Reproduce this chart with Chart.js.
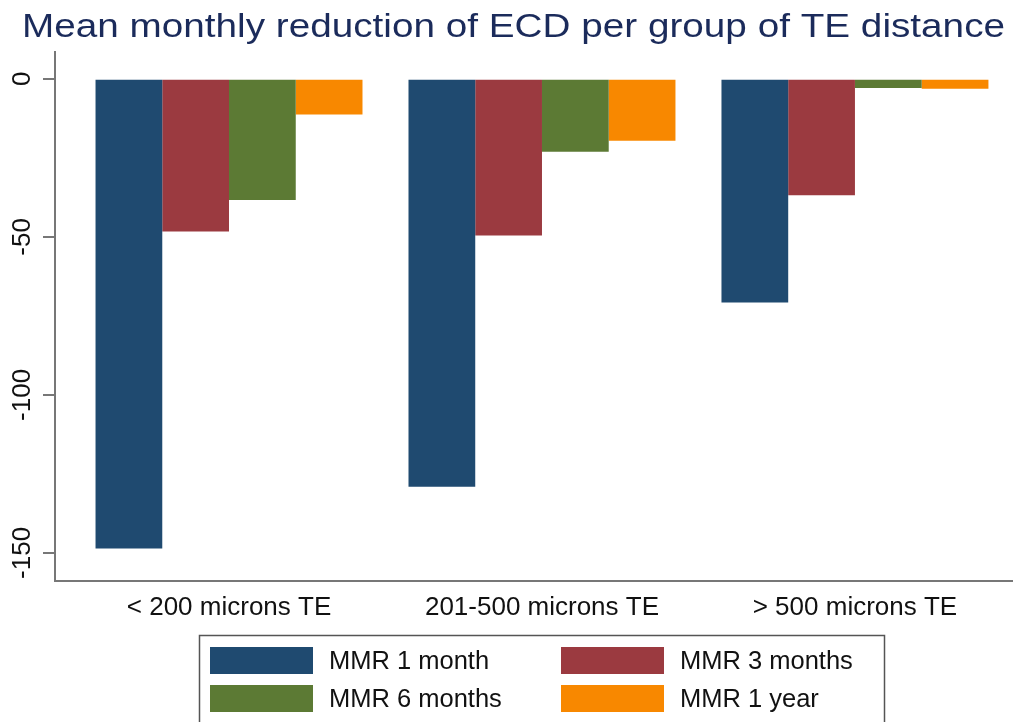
<!DOCTYPE html>
<html>
<head>
<meta charset="utf-8">
<script src="https://cdn.jsdelivr.net/npm/chart.js@4/dist/chart.umd.min.js"></script>
<style>
  html, body { margin: 0; padding: 0; background: #fff; overflow: hidden; }
  #wrap { width: 1013px; height: 722px; position: relative; }
</style>
</head>
<body>
<div id="wrap"><canvas id="chart"></canvas></div>
<script>
// data
const categories = ['< 200 microns TE', '201-500 microns TE', '> 500 microns TE']
const mmr1Month = [-148.6, -129.1, -70.8]
const mmr3Months = [-48.3, -49.6, -36.8]
const mmr6Months = [-38.3, -23.1, -2.9]
const mmr1Year = [-11.3, -19.6, -3.1]
const yTicks = [0, -50, -100, -150]
const seriesNames = ['MMR 1 month', 'MMR 3 months', 'MMR 6 months', 'MMR 1 year']
const colors = ['#1f4a70', '#9b3a40', '#5c7a34', '#f88800']

const FONT = '"Liberation Sans", Arial, sans-serif'

function toPoints(vals) {
  return vals.map((v, i) => ({ x: i, y: v }))
}

// title, y tick labels and boxed legend drawn on the canvas
const extras = {
  id: 'extras',
  afterDraw(chart) {
    const ctx = chart.ctx
    ctx.save()

    // title, stretched to the width of the original
    ctx.font = '34px ' + FONT
    ctx.fillStyle = '#1b2b5b'
    ctx.textBaseline = 'alphabetic'
    ctx.textAlign = 'left'
    const title = 'Mean monthly reduction of ECD per group of TE distance'
    const w = ctx.measureText(title).width
    const target = 983
    ctx.save()
    ctx.translate(22, 37)
    ctx.scale(target / w, 1)
    ctx.fillText(title, 0, 0)
    ctx.restore()

    // y tick labels, rotated
    const ys = chart.scales.y
    ctx.font = '26px ' + FONT
    ctx.fillStyle = '#111'
    ctx.textAlign = 'center'
    ctx.textBaseline = 'middle'
    yTicks.forEach(t => {
      const py = ys.getPixelForValue(t)
      ctx.save()
      ctx.translate(23, py)
      ctx.rotate(-Math.PI / 2)
      ctx.fillText(String(t), 0, 0)
      ctx.restore()
    })

    // legend
    ctx.strokeStyle = '#555'
    ctx.lineWidth = 1.5
    ctx.strokeRect(199.5, 635.5, 685, 100)
    const cols = [210, 561]
    const rows = [647, 685]
    ctx.font = '25.5px ' + FONT
    ctx.textAlign = 'left'
    ctx.textBaseline = 'middle'
    chart.data.datasets.forEach((ds, i) => {
      const cx = cols[i % 2]
      const cy = rows[Math.floor(i / 2)]
      ctx.fillStyle = ds.backgroundColor
      ctx.fillRect(cx, cy, 103, 27)
      ctx.fillStyle = '#111'
      ctx.fillText(ds.label, cx + 119, cy + 15)
    })
    ctx.restore()
  }
}

const seriesData = [mmr1Month, mmr3Months, mmr6Months, mmr1Year]

new Chart(document.getElementById('chart'), {
  type: 'bar',
  data: {
    datasets: seriesData.map((vals, i) => ({
      label: seriesNames[i],
      data: toPoints(vals),
      backgroundColor: colors[i],
      borderWidth: 0,
      categoryPercentage: 0.853,
      barPercentage: 1.0
    }))
  },
  options: {
    responsive: true,
    maintainAspectRatio: false,
    animation: false,
    layout: { padding: { top: 52, left: 0, right: 0, bottom: 0 } },
    plugins: {
      legend: { display: false },
      tooltip: { enabled: false },
      title: { display: false }
    },
    scales: {
      x: {
        type: 'linear',
        offset: false,
        min: -0.556,
        max: 2.505,
        afterFit(scale) { scale.height = 141 },
        afterBuildTicks(scale) { scale.ticks = categories.map((c, i) => ({ value: i })) },
        ticks: {
          font: { family: FONT, size: 26 },
          color: '#111',
          padding: 11,
          maxRotation: 0,
          autoSkip: false,
          callback: v => categories[v]
        },
        grid: { display: false, drawTicks: false },
        border: { display: true, color: '#777', width: 2 }
      },
      y: {
        min: -158.9,
        max: 8.5,
        afterFit(scale) { scale.width = 55 },
        afterBuildTicks(scale) { scale.ticks = yTicks.map(v => ({ value: v })) },
        ticks: { display: false },
        grid: {
          drawOnChartArea: false,
          drawTicks: true,
          tickLength: 12,
          color: '#777',
          lineWidth: 2
        },
        border: { display: true, color: '#777', width: 2 }
      }
    }
  },
  plugins: [extras]
})
</script>
</body>
</html>
